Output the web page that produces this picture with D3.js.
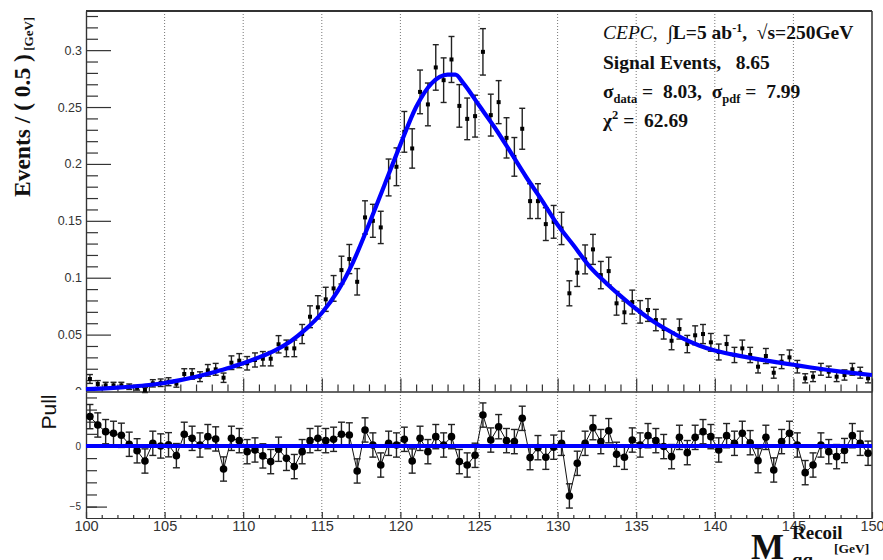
<!DOCTYPE html>
<html><head><meta charset="utf-8">
<script src="https://cdn.jsdelivr.net/npm/d3@7"></script>
<style>
body{margin:0;background:#fff}
text{white-space:pre}
</style></head><body>
<svg id="c" width="883" height="560" xmlns="http://www.w3.org/2000/svg"></svg>
<script>
// ---------------- data ----------------
const binLow = 100, binWidth = 0.5;
const dataValues = [
0.0110,0.0066,0.0054,0.0054,0.0054,0.0042,0.0033,0.0013,0.0072,0.0077,
0.0086,0.0069,0.0154,0.0154,0.0130,0.0186,0.0195,0.0121,0.0253,0.0271,
0.0248,0.0277,0.0288,0.0288,0.0415,0.0379,0.0379,0.0505,0.0657,0.0740,
0.0810,0.0906,0.1067,0.1164,0.0964,0.1530,0.1500,0.1442,0.1881,0.1975,
0.2282,0.2136,0.2633,0.2523,0.2848,0.2736,0.2918,0.2510,0.2396,0.2420,
0.2985,0.2429,0.2543,0.2229,0.2062,0.2309,0.1673,0.1673,0.1471,0.1491,
0.1433,0.0863,0.1044,0.1161,0.1249,0.1023,0.1058,0.0775,0.0696,0.0786,
0.0700,0.0716,0.0628,0.0549,0.0446,0.0549,0.0417,0.0494,0.0505,0.0432,
0.0347,0.0417,0.0321,0.0379,0.0321,0.0218,0.0312,0.0165,0.0262,0.0300,
0.0218,0.0116,0.0130,0.0195,0.0174,0.0130,0.0145,0.0195,0.0165,0.0116];
const dataErrors = [
0.0039,0.0030,0.0027,0.0027,0.0027,0.0024,0.0021,0.0022,0.0032,0.0033,
0.0035,0.0031,0.0046,0.0046,0.0043,0.0051,0.0052,0.0041,0.0060,0.0062,
0.0059,0.0062,0.0063,0.0063,0.0076,0.0073,0.0073,0.0084,0.0096,0.0102,
0.0106,0.0113,0.0122,0.0128,0.0116,0.0146,0.0145,0.0142,0.0162,0.0166,
0.0179,0.0173,0.0192,0.0188,0.0200,0.0196,0.0202,0.0187,0.0183,0.0184,
0.0204,0.0184,0.0189,0.0177,0.0170,0.0180,0.0153,0.0153,0.0144,0.0144,
0.0142,0.0110,0.0121,0.0127,0.0132,0.0120,0.0122,0.0104,0.0099,0.0105,
0.0099,0.0100,0.0094,0.0088,0.0079,0.0088,0.0076,0.0083,0.0084,0.0078,
0.0070,0.0076,0.0067,0.0073,0.0067,0.0055,0.0066,0.0048,0.0061,0.0065,
0.0055,0.0040,0.0043,0.0052,0.0049,0.0043,0.0045,0.0052,0.0048,0.0040];
const pullValues = [
2.42,1.73,1.18,1.04,0.88,0.14,-0.40,-1.24,0.22,0.00,
0.10,-0.80,0.96,0.63,0.08,0.77,0.58,-1.90,0.63,0.44,
-0.47,-0.33,-0.82,-1.29,-0.27,-1.02,-1.70,-0.47,0.44,0.63,
0.44,0.55,0.96,0.91,-2.06,1.32,0.08,-1.57,0.22,0.08,
0.55,-1.24,0.63,-0.47,0.77,0.08,0.77,-1.29,-1.57,-0.77,
2.55,0.49,1.59,0.44,0.36,2.28,-0.96,-0.14,-0.93,-0.10,
0.22,-4.12,-1.43,0.22,1.51,0.36,1.26,-0.69,-0.93,0.49,
0.08,0.85,0.44,-0.05,-0.88,0.71,-0.55,0.71,1.18,0.77,
-0.33,0.85,0.22,1.04,0.27,-1.21,0.71,-1.98,0.36,1.04,
0.08,-2.20,-1.57,0.08,-0.47,-0.88,-0.38,0.85,0.22,-0.60];
const pullErrors = dataValues.map(() => 1);
const fitX = [100,101,102,103,104,105,106,107,108,109,110,111,112,113,114,115,116,117,118,119,120,121,122,122.5,123,123.5,124,125,126,127,128,129,130,131,132,133,134,135,136,137,138,139,140,141,142,143,144,145,146,147,148,149,150];
const fitY = [0.0020,0.0026,0.0034,0.0044,0.0057,0.0075,0.0100,0.0130,0.0165,0.0205,0.0248,0.0300,0.0360,0.0440,0.0550,0.0690,0.0880,0.1140,0.1470,0.1820,0.2170,0.2500,0.2710,0.2765,0.2785,0.2785,0.2710,0.2515,0.2320,0.2105,0.1885,0.1680,0.1465,0.1287,0.1105,0.0965,0.0840,0.0725,0.0625,0.0540,0.0465,0.0405,0.0360,0.0328,0.0302,0.0278,0.0256,0.0235,0.0213,0.0193,0.0175,0.0159,0.0145];
const xTickLabels = [100,105,110,115,120,125,130,135,140,145,150];
const yTickLabels = [0,0.05,0.1,0.15,0.2,0.25,0.3];
const pullTickLabels = [-5,0,5];

// ---------------- chart ----------------
const svg = d3.select('#c');
const SANS = "'Liberation Sans', Arial, Helvetica, sans-serif";
const SERIF = "'Liberation Serif', 'Times New Roman', serif";
const AX = '#333';
const L = 86, R = 872, T = 11, MID = 391.5, B = 518;
const x = d3.scaleLinear().domain([100,150]).range([L,R]);
const y = d3.scaleLinear().domain([0,0.3344]).range([MID,T]);
const yp = d3.scaleLinear().domain([-5.94,4.45]).range([B,392]);
const centers = dataValues.map((_,i)=>binLow + binWidth*(i+0.5));

const defs = svg.append('defs');
defs.append('clipPath').attr('id','clipTop').append('rect').attr('x',L).attr('y',T).attr('width',R-L).attr('height',MID-T);
// clip rects in the local coords of the translated axis groups
defs.append('clipPath').attr('id','clipTopLab').append('rect').attr('x',-200).attr('y',0).attr('width',1200).attr('height',390);
defs.append('clipPath').attr('id','clipBotLab').append('rect').attr('x',-200).attr('y',389).attr('width',1200).attr('height',171);

// grid (dotted verticals)
svg.append('g').selectAll('line').data(xTickLabels.slice(1,-1)).join('line')
  .attr('x1',d=>x(d)).attr('x2',d=>x(d)).attr('y1',T).attr('y2',B)
  .attr('stroke','#777').attr('stroke-width',1).attr('stroke-dasharray','1,2');

function styleAxis(g, fs){
  g.selectAll('path,line').attr('stroke',AX).attr('stroke-width',1.2);
  g.selectAll('text').attr('fill',AX).attr('font-family',SANS).attr('font-size',fs);
}
// upper y axis
const minorY = d3.range(0,0.334,0.01).filter(v=>Math.abs(Math.round(v*20)-v*20)>1e-6);
svg.append('g').attr('transform',`translate(${L},0)`)
  .call(d3.axisLeft(y).tickValues(minorY).tickSize(-12).tickSizeOuter(0).tickFormat(''))
  .call(g=>styleAxis(g,12));
svg.append('g').attr('transform',`translate(${L},0)`).attr('clip-path','url(#clipTopLab)')
  .call(d3.axisLeft(y).tickValues(yTickLabels).tickSize(-25).tickSizeOuter(0).tickPadding(4).tickFormat(d=>String(d)))
  .call(g=>styleAxis(g,12.5));
// upper bottom x ticks
const minorX = d3.range(100,151,1).filter(v=>v%5!==0);
svg.append('g').attr('transform',`translate(0,${MID})`)
  .call(d3.axisBottom(x).tickValues(minorX).tickSize(-7).tickSizeOuter(0).tickFormat(''))
  .call(g=>styleAxis(g,12));
svg.append('g').attr('transform',`translate(0,${MID})`)
  .call(d3.axisBottom(x).tickValues(xTickLabels).tickSize(-13).tickSizeOuter(0).tickFormat(''))
  .call(g=>styleAxis(g,12));
// frame top / right
svg.append('line').attr('x1',L).attr('x2',R).attr('y1',T).attr('y2',T).attr('stroke',AX).attr('stroke-width',2);
svg.append('line').attr('x1',R).attr('x2',R).attr('y1',T).attr('y2',B).attr('stroke',AX).attr('stroke-width',1.5);

// upper data
const gd = svg.append('g');
const bars = gd.selectAll('g').data(dataValues).join('g');
bars.append('line').attr('x1',(d,i)=>x(centers[i])).attr('x2',(d,i)=>x(centers[i]))
  .attr('y1',(d,i)=>y(d-dataErrors[i])).attr('y2',(d,i)=>y(d+dataErrors[i]))
  .attr('stroke','#222').attr('stroke-width',1.4);
[-1,1].forEach(s=>{
  bars.append('line').attr('x1',(d,i)=>x(centers[i])-3).attr('x2',(d,i)=>x(centers[i])+3)
    .attr('y1',(d,i)=>y(d+s*dataErrors[i])).attr('y2',(d,i)=>y(d+s*dataErrors[i]))
    .attr('stroke','#222').attr('stroke-width',1.4);
});
bars.append('rect').attr('x',(d,i)=>x(centers[i])-2).attr('y',d=>y(d)-2)
  .attr('width',4).attr('height',4).attr('fill','#000');

// fit curve
svg.append('path').datum(fitX.map((v,i)=>[v,fitY[i]]))
  .attr('d',d3.line().x(d=>x(d[0])).y(d=>y(d[1])).curve(d3.curveMonotoneX))
  .attr('fill','none').attr('stroke','#0000ff').attr('stroke-width',4.2)
  .attr('clip-path','url(#clipTop)');

// ---------------- pull panel ----------------
svg.append('g').attr('transform',`translate(${L},0)`)
  .call(d3.axisLeft(yp).tickValues([-5,-4,-3,-2,-1,0,1,2,3,4]).tickSize(-11).tickSizeOuter(0).tickFormat(''))
  .call(g=>styleAxis(g,10));
svg.append('g').attr('transform',`translate(${L},0)`).attr('clip-path','url(#clipBotLab)')
  .call(d3.axisLeft(yp).tickValues(pullTickLabels).tickSize(-21).tickSizeOuter(0).tickPadding(5).tickFormat(d=>d<0?'\u2212'+(-d):String(d)))
  .call(g=>styleAxis(g,10));
svg.append('g').attr('transform',`translate(0,${B})`)
  .call(d3.axisBottom(x).tickValues(minorX).tickSize(-3).tickSizeOuter(0).tickFormat(''))
  .call(g=>styleAxis(g,14));
svg.append('g').attr('transform',`translate(0,${B})`)
  .call(d3.axisBottom(x).tickValues(xTickLabels).tickSize(-6).tickSizeOuter(0).tickPadding(3).tickFormat(d=>String(d)))
  .call(g=>styleAxis(g,14.5));

const gp = svg.append('g');
gp.append('path').datum(pullValues.map((v,i)=>[centers[i],v]))
  .attr('d',d3.line().x(d=>x(d[0])).y(d=>yp(d[1])))
  .attr('fill','none').attr('stroke','#111').attr('stroke-width',1);
const pb = gp.selectAll('g').data(pullValues).join('g');
pb.append('line').attr('x1',(d,i)=>x(centers[i])).attr('x2',(d,i)=>x(centers[i]))
  .attr('y1',(d,i)=>yp(d-pullErrors[i])).attr('y2',(d,i)=>yp(d+pullErrors[i]))
  .attr('stroke','#222').attr('stroke-width',1.4);
[-1,1].forEach(s=>{
  pb.append('line').attr('x1',(d,i)=>x(centers[i])-3.5).attr('x2',(d,i)=>x(centers[i])+3.5)
    .attr('y1',(d,i)=>yp(d+s*pullErrors[i])).attr('y2',(d,i)=>yp(d+s*pullErrors[i]))
    .attr('stroke','#222').attr('stroke-width',1.4);
});
pb.append('circle').attr('cx',(d,i)=>x(centers[i])).attr('cy',d=>yp(d)).attr('r',3.8).attr('fill','#000');
svg.append('line').attr('x1',L).attr('x2',R).attr('y1',yp(0)).attr('y2',yp(0))
  .attr('stroke','#0000ff').attr('stroke-width',4);

// ---------------- titles ----------------
const yt = svg.append('text').attr('transform','translate(30,197) rotate(-90)')
  .attr('font-family',SERIF).attr('font-weight','bold').attr('font-size',23.5).attr('fill','#111');
yt.append('tspan').text('Events / ( 0.5 )');
yt.append('tspan').attr('font-size',13).attr('dy',3).text(' [GeV]');

svg.append('text').attr('transform','translate(56,412) rotate(-90)').attr('text-anchor','middle')
  .attr('font-family',SANS).attr('font-size',21).attr('fill','#111').text('Pull');

const xt = svg.append('g').attr('font-family',SERIF).attr('font-weight','bold').attr('fill','#111');
xt.append('text').attr('x',751).attr('y',559).attr('font-size',35).text('M');
xt.append('text').attr('x',792).attr('y',539).attr('font-size',19).text('Recoil');
xt.append('text').attr('x',792).attr('y',566).attr('font-size',19).text('qq');
xt.append('text').attr('x',834).attr('y',553).attr('font-size',13.5).text('[GeV]');

// legend text
const lg = svg.append('g').attr('font-family',SERIF).attr('font-size',19.5).attr('fill','#111');
const l1 = lg.append('text').attr('x',603).attr('y',39);
l1.append('tspan').attr('font-style','italic').text('CEPC');
l1.append('tspan').text(',  ');
l1.append('tspan').attr('font-weight','bold').text('\u222BL=5 ab');
l1.append('tspan').attr('font-weight','bold').attr('font-size',12).attr('dy',-7).text('-1');
l1.append('tspan').attr('font-weight','bold').attr('dy',7).text(',  \u221As=250GeV');
lg.append('text').attr('x',603).attr('y',69).attr('font-weight','bold').text('Signal Events,   8.65');
const l3 = lg.append('text').attr('x',603).attr('y',98).attr('font-weight','bold');
l3.append('tspan').text('\u03C3');
l3.append('tspan').attr('font-size',12.5).attr('dy',5).text('data');
l3.append('tspan').attr('dy',-5).text(' =  8.03,  \u03C3');
l3.append('tspan').attr('font-size',12.5).attr('dy',5).text('pdf');
l3.append('tspan').attr('dy',-5).text(' =  7.99');
const l4 = lg.append('text').attr('x',603).attr('y',127).attr('font-weight','bold');
l4.append('tspan').text('\u03C7');
l4.append('tspan').attr('font-size',12.5).attr('dy',-8).text('2');
l4.append('tspan').attr('dy',8).text(' =  62.69');
</script>
</body></html>
